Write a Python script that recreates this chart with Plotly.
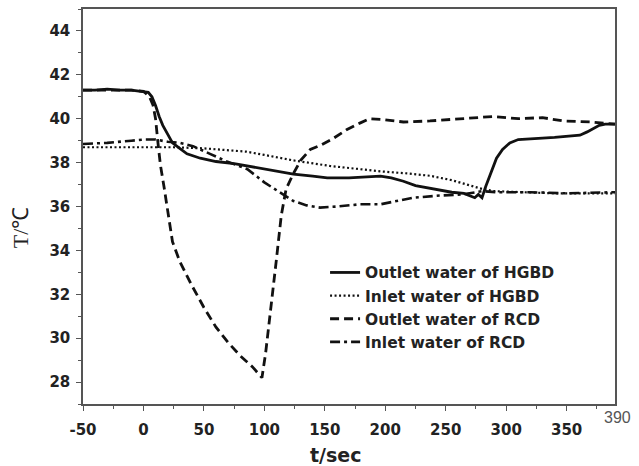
import plotly.graph_objects as go

# ---- data ----
t_out_hgbd = [-50, -40, -30, -20, -10, 0, 4, 7, 10, 13, 16, 20, 24, 30, 36, 47, 60, 75, 86, 100, 115, 124, 140, 152, 170, 185, 196, 205, 215, 225, 240, 255, 265, 270, 274, 277, 280, 283, 287, 292, 297, 303, 310, 320, 330, 340, 350, 361, 367, 372, 377, 382, 390]
T_out_hgbd = [41.3, 41.3, 41.35, 41.3, 41.3, 41.25, 41.2, 41.0, 40.6, 40.1, 39.7, 39.3, 38.9, 38.65, 38.4, 38.2, 38.05, 37.95, 37.85, 37.7, 37.58, 37.48, 37.38, 37.3, 37.3, 37.35, 37.38, 37.3, 37.15, 36.95, 36.8, 36.65, 36.6, 36.5, 36.4, 36.55, 36.4, 36.9, 37.5, 38.2, 38.6, 38.9, 39.05, 39.1, 39.12, 39.15, 39.2, 39.25, 39.4, 39.55, 39.7, 39.75, 39.75]

t_in_hgbd = [-50, -25, 0, 25, 50, 85, 100, 124, 154, 179, 196, 220, 237, 255, 270, 280, 290, 310, 340, 370, 390]
T_in_hgbd = [38.7, 38.7, 38.7, 38.7, 38.65, 38.5, 38.35, 38.1, 37.85, 37.7, 37.6, 37.5, 37.4, 37.2, 36.95, 36.8, 36.7, 36.65, 36.6, 36.6, 36.6]

t_out_rcd = [-50, -30, -10, 0, 5, 8, 10, 12, 14, 17, 20, 24, 30, 40, 50, 60, 70, 80, 90, 98, 101, 104, 107, 110, 114, 118, 124, 130, 138, 147, 157, 168, 179, 187, 200, 215, 237, 260, 289, 310, 330, 347, 370, 390]
T_out_rcd = [41.3, 41.3, 41.3, 41.25, 41.0, 40.6, 40.0, 38.9, 37.9, 36.9, 35.8, 34.4, 33.5, 32.4, 31.4, 30.5, 29.8, 29.2, 28.7, 28.2, 29.3, 30.7, 32.0, 33.6, 35.6, 36.8, 37.5, 38.1, 38.6, 38.8, 39.1, 39.5, 39.8, 40.0, 39.95, 39.85, 39.9, 40.0, 40.1, 40.0, 40.05, 39.9, 39.85, 39.75]

t_in_rcd = [-50, -30, -10, 0, 10, 20, 30, 41, 55, 69, 86, 100, 107, 115, 124, 135, 146, 160, 179, 196, 210, 223, 245, 264, 280, 292, 320, 350, 390]
T_in_rcd = [38.85, 38.9, 39.0, 39.05, 39.05, 38.95, 38.9, 38.75, 38.4, 38.05, 37.7, 37.1, 36.85, 36.55, 36.25, 36.05, 35.95, 36.0, 36.1, 36.1, 36.25, 36.4, 36.5, 36.55, 36.7, 36.65, 36.65, 36.6, 36.65]

names = ["Outlet water of HGBD", "Inlet water of HGBD", "Outlet water of RCD", "Inlet water of RCD"]
x_ticks = [-50, 0, 50, 100, 150, 200, 250, 300, 350]
y_ticks = [28, 30, 32, 34, 36, 38, 40, 42, 44]

C = "#111111"
FONT = "DejaVu Sans, Liberation Sans, Arial"
series = [
    (t_out_hgbd, T_out_hgbd, dict(color=C, width=2.8, dash="solid")),
    (t_in_hgbd, T_in_hgbd, dict(color=C, width=2.2, dash="2px,2.5px")),
    (t_out_rcd, T_out_rcd, dict(color=C, width=2.8, dash="9px,5px")),
    (t_in_rcd, T_in_rcd, dict(color=C, width=2.6, dash="10px,4px,3px,4px")),
]

fig = go.Figure()
for i, (x, y, ln) in enumerate(series):
    fig.add_trace(go.Scatter(x=x, y=y, mode="lines", name=f"<b>{names[i]}</b>", line=ln,
                             legendgroup=f"g{i}"))

axis_common = dict(
    showline=True, linecolor="#555555", linewidth=1.5, mirror=True,
    ticks="outside", ticklen=5, tickwidth=1.2, tickcolor="#555555",
    showgrid=False, zeroline=False,
    tickfont=dict(family=FONT, size=15, color="#222222"),
)

fig.update_layout(
    width=639, height=466,
    margin=dict(l=83, r=24, t=7, b=62),
    paper_bgcolor="white", plot_bgcolor="white",
    showlegend=True,
    legend=dict(x=0.455, y=0.375, xanchor="left", yanchor="top",
                bgcolor="rgba(0,0,0,0)", tracegroupgap=0,
                font=dict(family=FONT, size=15.5, color="#222222")),
    xaxis=dict(range=[-50, 390], tickvals=x_ticks,
               ticktext=[f"<b>{v}</b>" for v in x_ticks], ticklabelstandoff=6,
               minor=dict(tickvals=list(range(-25, 390, 50)), ticks="outside", ticklen=3, tickcolor="#555555"),
               **axis_common),
    yaxis=dict(range=[27, 45], tickvals=y_ticks,
               ticktext=[f"<b>{v}</b>" for v in y_ticks], ticklabelstandoff=3,
               minor=dict(tickvals=list(range(27, 46, 2)), ticks="outside", ticklen=3, tickcolor="#555555"),
               **axis_common),
)

fig.add_annotation(text="<b>t/sec</b>", xref="paper", yref="paper", x=0.474, y=-0.128,
                   xanchor="center", yanchor="middle", showarrow=False,
                   font=dict(family=FONT, size=19, color="#222222"))
fig.add_annotation(text="T/℃", xref="paper", yref="paper", x=-0.118, y=0.448,
                   xanchor="center", yanchor="middle", showarrow=False, textangle=-90,
                   font=dict(family="Liberation Serif, Times New Roman", size=22, color="#222222"))
fig.add_annotation(text="390", xref="paper", yref="paper", x=1.005, y=-0.033,
                   xanchor="center", yanchor="middle", showarrow=False,
                   font=dict(family="Liberation Sans, Arial", size=16, color="#555555"))

fig.write_html("out.html")
